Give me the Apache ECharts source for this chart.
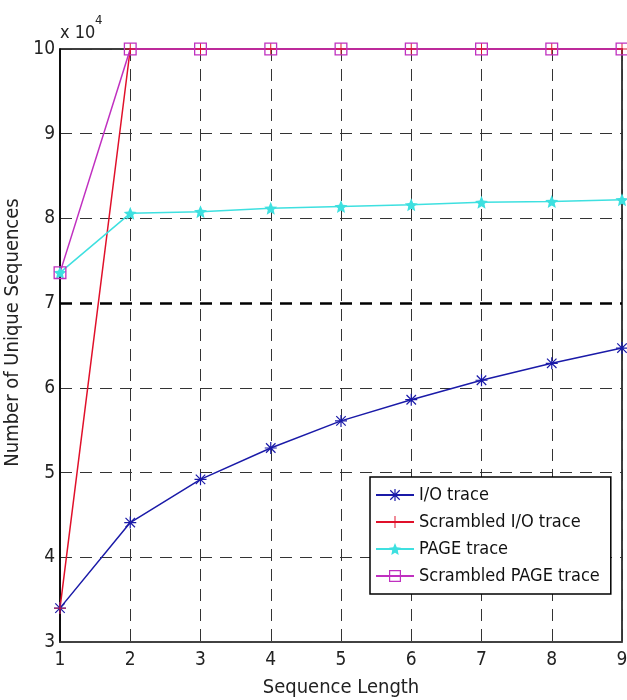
<!DOCTYPE html>
<html>
<head>
<meta charset="utf-8">
<script src="https://cdn.jsdelivr.net/npm/echarts@6/dist/echarts.min.js"></script>
<style>
  html, body { margin: 0; padding: 0; background: #fff; }
  #chart { width: 627px; height: 700px; }
</style>
</head>
<body>
<div id="chart"></div>
<script>
let lengths = [1, 2, 3, 4, 5, 6, 7, 8, 9];
let ioTrace = [34000, 44100, 49200, 52900, 56100, 58600, 60900, 62900, 64700];
let scrambledIoTrace = [34000, 100000, 100000, 100000, 100000, 100000, 100000, 100000, 100000];
let pageTrace = [73600, 80600, 80800, 81200, 81400, 81600, 81900, 82000, 82200];
let scrambledPageTrace = [73600, 100000, 100000, 100000, 100000, 100000, 100000, 100000, 100000];
let yTicks = [3, 4, 5, 6, 7, 8, 9, 10];

let font = "'DejaVu Sans Condensed', 'Liberation Sans', sans-serif";

// marker shapes, close to the matlab ones
let asterisk = "path://M9 0L11 0L11 20L9 20Z M0 9L20 9L20 11L0 11Z M1.4 2.8L2.8 1.4L18.6 17.2L17.2 18.6Z M17.2 1.4L18.6 2.8L2.8 18.6L1.4 17.2Z";
let plus = "path://M9.2 0L10.8 0L10.8 20L9.2 20Z M0 9.2L20 9.2L20 10.8L0 10.8Z";
let star = "path://M10 0L12.9 7L20 7.6L14.6 12.3L16.2 19.5L10 15.7L3.8 19.5L5.4 12.3L0 7.6L7.1 7Z";
let square = "path://M0 0L20 0L20 20L0 20Z M2 2L2 18L18 18L18 2Z";

function pairs(ys) {
  return lengths.map((x, i) => [x, ys[i]]);
}

let myChart = echarts.init(document.getElementById("chart"));

let option = {
  backgroundColor: "#fff",
  animation: false,
  textStyle: { fontFamily: font },
  grid: {
    left: 60,
    right: 5,
    top: 49,
    bottom: 58,
    containLabel: false,
    outerBoundsMode: "none",
    show: true,
    borderColor: "#000",
    borderWidth: 1.5,
  },
  legend: {
    orient: "vertical",
    left: 370,
    top: 477,
    padding: [8, 11, 8, 5],
    itemGap: 7,
    itemWidth: 38,
    itemHeight: 15,
    backgroundColor: "#fff",
    borderColor: "#000",
    borderWidth: 1.5,
    textStyle: { fontFamily: font, fontSize: 18, color: "#111", lineHeight: 20 },
    data: ["I/O trace", "Scrambled I/O trace", "PAGE trace", "Scrambled PAGE trace"],
  },
  xAxis: {
    type: "value",
    min: 1,
    max: 9,
    interval: 1,
    name: "Sequence Length",
    nameLocation: "middle",
    nameGap: 36,
    nameTextStyle: { fontFamily: font, fontSize: 20, color: "#222" },
    axisLine: { lineStyle: { color: "#444", width: 1.5 } },
    axisTick: { show: false },
    axisLabel: { fontFamily: font, fontSize: 19, color: "#222", margin: 9 },
    splitLine: { lineStyle: { color: "#333", type: [12, 8], width: 1 } },
  },
  yAxis: {
    type: "value",
    min: 30000,
    max: 100000,
    interval: 10000,
    name: "Number of Unique Sequences",
    nameLocation: "middle",
    nameGap: 27,
    nameTextStyle: { fontFamily: font, fontSize: 20, color: "#222", padding: [0, 0, 0, 26] },
    axisLine: { lineStyle: { color: "#000", width: 1.5 } },
    axisTick: { show: false },
    axisLabel: {
      fontFamily: font,
      fontSize: 19,
      color: "#222",
      margin: 5,
      formatter: (v) => (yTicks.includes(v / 10000) ? String(v / 10000) : ""),
    },
    splitLine: { lineStyle: { color: "#333", type: [12, 8], width: 1 } },
  },
  graphic: [
    {
      type: "text",
      left: 60,
      top: 24,
      style: { text: "x 10", font: "18px " + font, fill: "#222" },
    },
    {
      type: "text",
      left: 95,
      top: 14,
      style: { text: "4", font: "13px " + font, fill: "#222" },
    },
  ],
  series: [
    {
      name: "I/O trace",
      type: "line",
      data: pairs(ioTrace),
      clip: false,
      symbol: asterisk,
      symbolSize: 12,
      color: "#1a1aa8",
      lineStyle: { width: 1.5, color: "#1a1aa8" },
      itemStyle: { color: "#1a1aa8" },
      markLine: {
        silent: true,
        symbol: "none",
        label: { show: false },
        lineStyle: { color: "#000", type: [12, 8], width: 2.5 },
        data: [{ yAxis: 70000 }],
      },
    },
    {
      name: "Scrambled I/O trace",
      type: "line",
      data: pairs(scrambledIoTrace),
      clip: false,
      symbol: plus,
      symbolSize: 12,
      color: "#e0102a",
      lineStyle: { width: 1.5, color: "#e0102a" },
      itemStyle: { color: "#e0102a" },
    },
    {
      name: "PAGE trace",
      type: "line",
      data: pairs(pageTrace),
      clip: false,
      symbol: star,
      symbolSize: 13,
      color: "#3ee0e0",
      lineStyle: { width: 1.5, color: "#3ee0e0" },
      itemStyle: { color: "#3ee0e0" },
    },
    {
      name: "Scrambled PAGE trace",
      type: "line",
      data: pairs(scrambledPageTrace),
      clip: false,
      symbol: square,
      symbolSize: 13,
      color: "#c030c0",
      lineStyle: { width: 1.5, color: "#c030c0" },
      itemStyle: { color: "#c030c0" },
    },
  ],
};

myChart.setOption(option);
</script>
</body>
</html>
